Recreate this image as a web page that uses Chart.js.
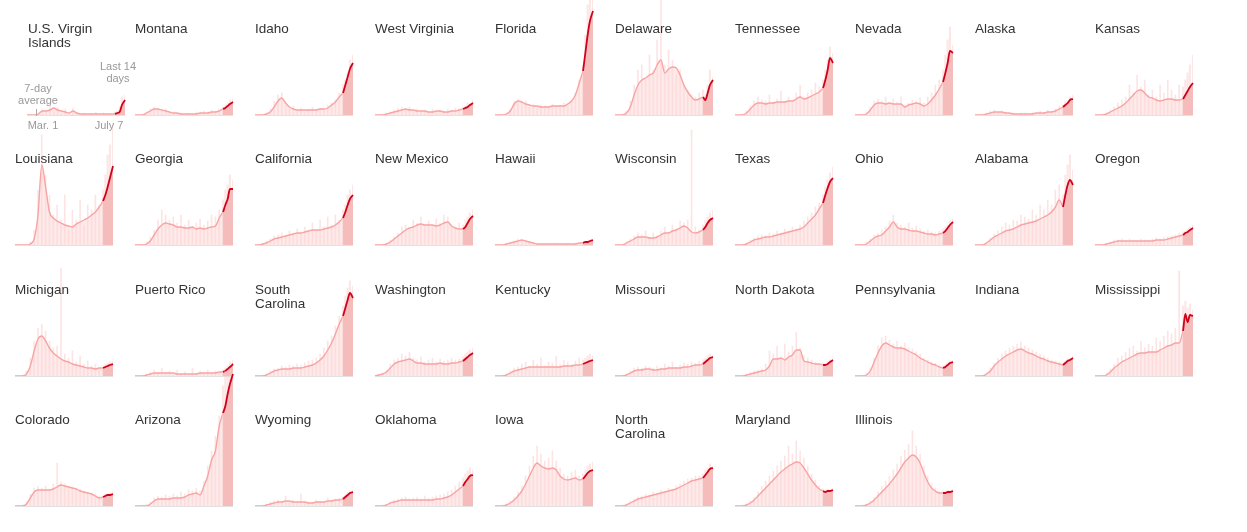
<!DOCTYPE html>
<html><head><meta charset="utf-8">
<script src="https://cdn.jsdelivr.net/npm/chart.js@4.4.0/dist/chart.umd.min.js"></script>
<style>
body{margin:0;background:#fff;}
#wrap{position:relative;width:1247px;height:532px;overflow:hidden;font-family:"Liberation Sans",Arial,sans-serif;background:#fff;}
.ttl{position:absolute;font-size:13.5px;line-height:14px;color:#333;z-index:2;white-space:pre;}
.cv{position:absolute;z-index:1;}
.ann{position:absolute;font-size:11px;line-height:11.5px;color:#999;text-align:center;z-index:3;white-space:pre;}
</style></head><body><div id="wrap"></div>
<script>
// Days since Mar. 1 at which values are sampled (last five = last 14 days)
const DAYS = [0,5,10,15,20,25,30,35,40,45,50,55,60,65,70,75,80,85,90,95,100,105,110,115,118,121,124,128];
const LAST14_START = 115;
const FIRST_LABEL = 'Mar. 1';
const LAST_LABEL = 'July 7';
const AVG_LABEL = '7-day\naverage';
const LAST14_LABEL = 'Last 14\ndays';

const stateNames = ['U.S. Virgin\nIslands','Montana','Idaho','West Virginia','Florida','Delaware','Tennessee','Nevada','Alaska','Kansas',
 'Louisiana','Georgia','California','New Mexico','Hawaii','Wisconsin','Texas','Ohio','Alabama','Oregon',
 'Michigan','Puerto Rico','South\nCarolina','Washington','Kentucky','Missouri','North Dakota','Pennsylvania','Indiana','Mississippi',
 'Colorado','Arizona','Wyoming','Oklahoma','Iowa','North\nCarolina','Maryland','Illinois'];

// New cases per capita (relative units): 7-day average and daily values
const avgVirginIslands = [0,0,0,1,4,4,5,7,5,4,3,2,4,2,1,1,1,1,1,1,1,1,1,1,2,3,10,15];
const dayVirginIslands = [0,0,0,2,6,3,10,4,8,2,6,1,7,1,0,2,0,1,3,0,2,1,0,3,4,8,18,20];
const avgMontana = [0,0,0,2,4,6,6,5,4,3,2,2,1,1,1,1,1,2,2,2,3,3,4,6,7,9,11,13];
const dayMontana = [0,0,1,3,6,8,5,4,6,2,3,1,2,0,2,1,3,2,4,3,5,4,6,8,10,12,15,16];
const avgIdaho = [0,0,0,1,3,8,14,17,12,8,6,5,5,5,5,5,5,6,6,7,10,13,18,22,30,38,46,52];
const dayIdaho = [0,0,0,2,6,14,20,22,10,6,9,4,7,3,6,8,4,7,5,10,12,15,22,30,35,42,55,60];
const avgWestVirginia = [0,0,0,1,2,3,4,5,6,5,5,4,4,4,3,3,4,4,3,3,4,4,5,6,7,8,10,12];
const dayWestVirginia = [0,0,1,2,3,5,7,8,6,8,4,6,3,5,2,6,3,5,4,6,5,7,6,8,9,12,11,15];
const avgFlorida = [0,0,0,1,4,11,14,13,11,10,9,9,8,8,8,9,9,9,9,11,14,20,32,44,62,80,94,104];
const dayFlorida = [0,0,1,2,6,14,16,12,14,8,11,7,10,9,7,11,8,10,12,9,14,22,35,50,80,110,118,120];
const avgDelaware = [0,0,0,2,8,20,30,35,37,40,42,50,55,42,46,48,47,40,30,23,18,15,16,18,15,22,30,35];
const dayDelaware = [0,0,1,4,14,30,45,50,35,60,45,75,115,50,65,55,40,45,30,25,20,18,22,25,20,30,45,38];
const avgTennessee = [0,0,0,2,6,10,12,12,11,12,12,13,13,13,14,14,16,18,16,17,19,21,23,27,35,45,57,52];
const dayTennessee = [0,0,1,4,9,14,18,15,14,20,13,16,24,12,18,13,22,30,18,22,25,32,28,35,45,55,68,62];
const avgNevada = [0,0,0,1,5,10,12,12,11,12,11,11,11,8,10,11,12,11,9,11,15,20,26,33,42,52,64,62];
const dayNevada = [0,0,1,3,8,14,16,14,18,12,16,13,18,10,12,15,14,17,12,18,22,30,35,45,60,75,88,70];
const avgAlaska = [0,0,0,1,2,3,3,3,2,2,1,1,1,1,1,1,2,2,2,3,3,4,6,8,10,12,15,16];
const dayAlaska = [0,0,1,2,4,5,2,4,3,1,2,0,2,1,0,3,2,4,2,5,4,6,9,10,14,12,18,20];
const avgKansas = [0,0,0,1,3,5,7,9,12,16,20,24,25,22,18,17,15,14,15,16,16,15,15,16,20,24,28,32];
const dayKansas = [0,0,1,2,5,8,12,15,18,30,22,40,28,35,20,25,18,30,22,35,25,20,30,28,35,42,50,60];

const avgLouisiana = [0,0,0,0,1,6,30,80,58,33,27,24,22,20,19,18,21,23,25,27,30,33,38,44,50,58,67,79];
const dayLouisiana = [0,0,0,0,3,15,55,110,70,50,30,40,25,50,15,35,25,45,20,40,35,50,40,55,70,90,100,120];
const avgGeorgia = [0,0,0,1,4,10,16,20,22,21,20,18,18,17,17,18,16,17,16,17,18,19,27,33,40,46,56,56];
const dayGeorgia = [0,0,1,3,8,15,25,35,30,25,28,22,30,20,25,18,22,26,20,24,30,28,35,45,55,60,70,65];
const avgCalifornia = [0,0,1,2,4,6,7,8,9,10,11,12,12,13,14,15,15,15,16,17,18,20,23,27,33,40,46,50];
const dayCalifornia = [0,0,2,4,6,9,10,12,9,14,12,16,13,18,15,22,14,25,18,28,20,30,25,35,40,50,55,60];
const avgNewMexico = [0,0,0,1,3,6,9,12,15,17,18,20,21,20,20,20,19,20,22,23,19,17,16,16,18,22,26,29];
const dayNewMexico = [0,0,1,2,5,8,12,18,20,15,25,22,28,18,24,20,26,22,30,28,20,18,22,20,25,28,32,35];
const avgHawaii = [0,0,0,1,2,3,4,5,4,3,2,1,1,1,1,1,1,1,1,1,1,1,2,2,3,3,4,5];
const dayHawaii = [0,0,1,2,3,4,6,5,4,3,2,1,1,0,1,1,2,1,1,2,1,2,2,3,3,4,5,6];
const avgWisconsin = [0,0,0,2,4,6,8,8,8,7,7,8,10,12,12,14,15,17,19,17,13,12,13,15,18,22,25,27];
const dayWisconsin = [0,0,1,3,6,9,12,10,14,8,12,9,14,18,13,20,16,24,22,25,115,18,15,20,25,28,32,35];
const avgTexas = [0,0,0,1,3,5,6,7,8,8,9,10,11,12,13,14,15,16,18,22,26,30,36,42,50,57,63,67];
const dayTexas = [0,0,1,2,5,7,9,10,9,12,11,14,12,16,14,18,16,20,24,28,32,38,42,50,58,65,72,78];
const avgOhio = [0,0,0,1,4,7,9,10,14,18,23,18,16,16,15,14,14,13,12,11,11,10,11,12,14,17,20,23];
const dayOhio = [0,0,1,3,6,10,12,15,18,24,30,22,20,18,22,17,19,16,14,15,13,12,14,16,18,20,24,26];
const avgAlabama = [0,0,0,2,5,8,10,12,14,15,16,18,20,21,22,23,24,26,28,30,33,38,45,38,50,60,65,60];
const dayAlabama = [0,0,1,3,7,11,14,18,22,20,25,24,30,28,26,35,30,40,35,45,40,55,60,50,70,80,90,75];
const avgOregon = [0,0,0,1,2,3,4,4,4,4,4,4,4,4,4,4,5,5,5,6,7,8,9,10,12,13,15,17];
const dayOregon = [0,0,1,2,3,5,5,6,4,6,5,4,6,5,5,6,7,6,8,8,9,10,12,13,14,16,18,20];

const avgMichigan = [0,0,0,2,10,25,37,40,35,28,23,20,17,15,14,12,11,10,9,8,8,7,8,8,9,10,11,12];
const dayMichigan = [0,0,1,5,18,35,48,52,45,35,28,30,108,22,18,25,14,20,12,15,10,12,9,10,12,13,14,15];
const avgPuertoRico = [0,0,0,1,2,3,3,3,3,3,3,2,2,2,2,2,2,3,3,3,3,3,4,4,5,7,9,12];
const dayPuertoRico = [0,0,1,2,4,6,3,8,2,5,1,6,2,4,1,8,2,5,3,6,2,5,4,6,8,10,14,16];
const avgSouthCarolina = [0,0,0,1,3,5,6,7,7,7,8,8,8,9,10,11,13,16,20,26,33,42,52,60,68,76,83,78];
const daySouthCarolina = [0,0,1,2,5,7,8,10,9,11,10,12,11,13,15,16,18,22,28,35,40,50,60,70,80,88,95,90];
const avgWashington = [0,1,2,4,8,12,14,15,16,17,15,13,13,12,12,12,12,13,12,12,13,13,14,15,17,19,21,23];
const dayWashington = [0,2,3,6,12,16,18,22,20,24,18,16,19,14,16,18,14,17,15,16,18,16,17,19,22,24,26,28];
const avgKentucky = [0,0,0,1,3,5,6,7,8,9,9,9,9,9,9,9,9,9,10,10,10,11,11,12,13,14,15,16];
const dayKentucky = [0,0,1,2,5,8,9,12,14,10,16,12,18,10,14,13,20,12,16,14,12,15,18,16,18,20,22,20];
const avgMissouri = [0,0,0,1,3,5,6,6,7,7,6,6,7,7,8,8,8,8,9,9,10,11,11,12,14,16,18,19];
const dayMissouri = [0,0,1,2,5,8,9,8,10,9,8,10,8,12,10,14,9,11,13,12,14,13,15,16,18,20,22,21];
const avgNorthDakota = [0,0,0,1,2,3,4,5,6,10,17,17,18,16,19,21,26,26,15,14,13,12,12,11,11,12,14,16];
const dayNorthDakota = [0,0,1,2,4,5,6,7,12,25,22,30,18,32,24,30,44,28,20,18,16,14,12,13,13,14,16,17];
const avgPennsylvania = [0,0,0,1,5,14,23,30,33,31,29,28,28,27,25,23,21,18,16,14,12,11,9,8,9,11,13,14];
const dayPennsylvania = [0,0,1,3,8,18,30,38,40,36,32,35,30,33,28,27,24,22,18,16,14,13,11,10,11,13,15,16];
const avgIndiana = [0,0,0,2,5,10,14,17,20,22,24,26,27,25,23,22,20,18,17,15,14,13,12,11,13,15,16,18];
const dayIndiana = [0,0,1,3,8,13,18,22,25,28,30,32,34,30,28,26,24,22,20,18,16,15,14,13,15,17,18,20];
const avgMississippi = [0,0,0,1,4,8,11,14,16,18,20,22,23,23,24,24,24,26,28,30,31,33,33,45,62,54,61,60];
const dayMississippi = [0,0,1,3,7,12,18,20,24,28,30,25,35,28,32,30,38,35,40,45,42,48,105,70,75,68,72,66];

const avgColorado = [0,0,0,2,8,14,16,16,16,16,17,19,21,20,19,18,17,15,14,13,12,10,8,9,10,11,11,12];
const dayColorado = [0,0,1,4,12,18,20,18,20,17,22,43,24,22,20,19,18,17,15,14,13,12,10,10,12,12,13,14];
const avgArizona = [0,0,0,0,2,5,7,7,7,7,8,8,8,9,11,12,13,11,20,30,46,55,80,93,100,112,122,132];
const dayArizona = [0,0,1,2,4,8,10,9,11,10,12,10,14,12,16,15,18,15,25,40,55,70,90,120,135,130,140,140];
const avgWyoming = [0,0,0,1,2,3,4,4,5,5,4,4,4,4,3,3,4,4,4,5,5,6,6,7,9,11,13,14];
const dayWyoming = [0,0,1,2,4,5,6,3,10,4,6,3,12,5,4,3,6,5,4,8,6,7,8,9,11,13,15,16];
const avgOklahoma = [0,0,0,1,3,4,5,6,6,6,6,6,6,6,6,6,7,7,8,9,11,14,17,20,24,27,30,31];
const dayOklahoma = [0,0,1,2,4,6,7,8,9,7,8,9,7,10,8,9,10,11,12,14,16,20,24,28,32,35,38,36];
const avgIowa = [0,0,0,1,3,6,10,15,22,30,38,43,40,38,37,38,36,30,27,26,27,28,26,27,30,33,35,36];
const dayIowa = [0,0,1,2,5,9,14,20,30,40,50,60,52,45,48,55,45,38,32,30,34,36,30,32,36,40,42,44];
const avgNorthCarolina = [0,0,0,1,3,5,7,8,9,10,11,12,13,14,15,16,17,19,21,23,25,26,27,28,31,34,37,38];
const dayNorthCarolina = [0,0,1,2,5,7,9,10,12,11,14,13,16,15,18,17,20,22,25,27,28,30,30,32,36,38,42,40];
const avgMaryland = [0,0,0,1,3,6,10,14,18,22,26,30,34,37,40,42,44,43,38,32,26,21,17,15,14,15,15,16];
const dayMaryland = [0,0,1,2,5,9,14,20,25,30,35,40,45,50,60,52,65,55,48,40,32,26,20,17,15,17,16,18];
const avgIllinois = [0,0,0,1,3,6,10,14,18,22,27,32,38,44,48,51,49,43,33,24,18,15,13,13,13,14,14,15];
const dayIllinois = [0,0,1,2,5,9,14,20,25,30,36,42,50,56,62,75,60,52,40,30,22,18,15,15,14,16,15,17];

const seriesList = [
 [avgVirginIslands,dayVirginIslands],[avgMontana,dayMontana],[avgIdaho,dayIdaho],[avgWestVirginia,dayWestVirginia],[avgFlorida,dayFlorida],
 [avgDelaware,dayDelaware],[avgTennessee,dayTennessee],[avgNevada,dayNevada],[avgAlaska,dayAlaska],[avgKansas,dayKansas],
 [avgLouisiana,dayLouisiana],[avgGeorgia,dayGeorgia],[avgCalifornia,dayCalifornia],[avgNewMexico,dayNewMexico],[avgHawaii,dayHawaii],
 [avgWisconsin,dayWisconsin],[avgTexas,dayTexas],[avgOhio,dayOhio],[avgAlabama,dayAlabama],[avgOregon,dayOregon],
 [avgMichigan,dayMichigan],[avgPuertoRico,dayPuertoRico],[avgSouthCarolina,daySouthCarolina],[avgWashington,dayWashington],[avgKentucky,dayKentucky],
 [avgMissouri,dayMissouri],[avgNorthDakota,dayNorthDakota],[avgPennsylvania,dayPennsylvania],[avgIndiana,dayIndiana],[avgMississippi,dayMississippi],
 [avgColorado,dayColorado],[avgArizona,dayArizona],[avgWyoming,dayWyoming],[avgOklahoma,dayOklahoma],[avgIowa,dayIowa],
 [avgNorthCarolina,dayNorthCarolina],[avgMaryland,dayMaryland],[avgIllinois,dayIllinois]
];

const wrap = document.getElementById('wrap');
const baselinePlugin = {
  id:'baseline',
  afterDatasetsDraw(chart){
    const {ctx, chartArea:a} = chart;
    ctx.save(); ctx.strokeStyle='#e2e2e2'; ctx.lineWidth=1;
    ctx.beginPath(); ctx.moveTo(a.left, a.bottom+0.5); ctx.lineTo(a.right, a.bottom+0.5); ctx.stroke();
    ctx.restore();
  }
};
function pts(arr, from, to){
  return DAYS.map((d,k)=>({x:d,y:arr[k]})).filter(p=>p.x>=from && p.x<=to);
}
function addText(cls, txt, left, top, width){
  const d=document.createElement('div'); d.className=cls; d.textContent=txt;
  d.style.left=left+'px'; d.style.top=top+'px'; if(width) d.style.width=width+'px';
  wrap.appendChild(d); return d;
}
const maxDay = DAYS[DAYS.length-1];
stateNames.forEach((name,i)=>{
  const col=i%10, row=Math.floor(i/10);
  const x0 = i===0 ? 27 : 15+120*col;
  const base = 115 + Math.round(130.4*row);
  addText('ttl', name, i===0?28:x0, 22+Math.round(130.4*row));
  const c=document.createElement('canvas');
  c.className='cv'; c.width=104; c.height=142;
  c.style.left=(x0-3)+'px'; c.style.top=(base-140)+'px';
  c.style.width='104px'; c.style.height='142px';
  wrap.appendChild(c);
  const [avg, day] = seriesList[i];
  new Chart(c,{
    type:'bar',
    data:{datasets:[
      {type:'bar', data:pts(day,0,LAST14_START-1), backgroundColor:'rgba(250,188,188,0.4)', barThickness:1, grouped:false, order:7},
      {type:'line', data:pts(avg,0,LAST14_START), borderColor:'#f8a4a4', borderWidth:1.4, backgroundColor:'rgba(253,214,214,0.5)', fill:'origin', pointRadius:0, cubicInterpolationMode:'monotone', clip:false, order:6},
      {type:'bar', data:pts(day,LAST14_START,maxDay), backgroundColor:'rgba(248,200,200,0.45)', barThickness:1.5, grouped:false, order:5},
      {type:'line', data:pts(avg,LAST14_START,maxDay), borderWidth:0, borderColor:'rgba(0,0,0,0)', backgroundColor:'#f5bcbc', fill:'origin', pointRadius:0, cubicInterpolationMode:'monotone', clip:false, order:4},
      {type:'line', data:pts(avg,LAST14_START,maxDay), borderColor:'#d0021b', borderWidth:1.8, fill:false, pointRadius:0, cubicInterpolationMode:'monotone', clip:false, order:3}
    ]},
    options:{
      responsive:false, animation:false, devicePixelRatio:1, events:[],
      layout:{padding:{left:3,right:3,top:5,bottom:2}},
      plugins:{legend:{display:false}, tooltip:{enabled:false}},
      scales:{
        x:{type:'linear', min:0, max:maxDay, offset:false, display:false},
        y:{min:0, max:135, display:false}
      }
    },
    plugins:[baselinePlugin]
  });
});
// annotations on the first panel
addText('ann', AVG_LABEL, 13, 83, 50);
const tick=document.createElement('div');
tick.style.cssText='position:absolute;left:36px;top:109px;width:1px;height:7px;background:#aaa;z-index:3';
wrap.appendChild(tick);
addText('ann', LAST14_LABEL, 97, 61, 42);
addText('ann', FIRST_LABEL, 22, 120, 42);
addText('ann', LAST_LABEL, 89, 120, 40);
</script></body></html>
